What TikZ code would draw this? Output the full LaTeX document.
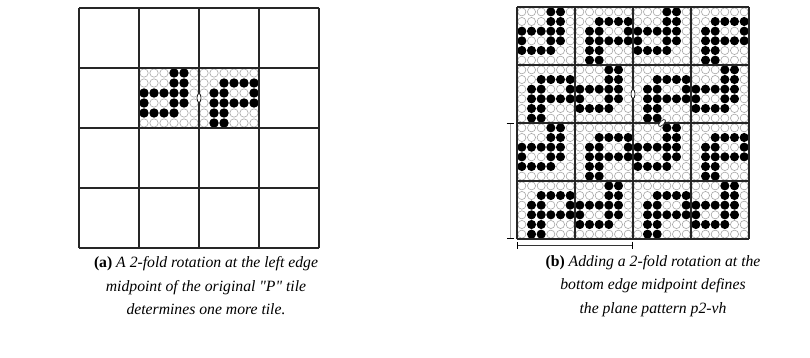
\documentclass[tikz,border=0pt]{standalone}
\usepackage{fontspec}
\setmainfont{Liberation Serif}
\usetikzlibrary{arrows.meta}

% one 6x6 motif: corner x, corner y, cell size, turn
\newcommand{\tilemotif}[4]{%
  \begin{scope}[shift={({#1},{#2})}, scale=#3, rotate around={#4:(3,3)}]
    \foreach \cx in {1,...,6}
      \foreach \ry in {1,...,6}
        \draw[hole] (\cx-0.5,\ry-0.5) circle[radius=0.42];
    \foreach \cx/\ry in {3/2,4/2,5/2,6/2,2/3,3/3,6/3,2/4,3/4,4/4,5/4,6/4,2/5,3/5,2/6,3/6}
      \fill[dot] (\cx-0.5,\ry-0.5) circle[radius=0.47];
  \end{scope}}

\begin{document}
\begin{tikzpicture}[x=1pt, y=-1pt,
    hole/.style={draw=gray!70, line width=0.6pt},
    dot/.style={black},
    tileline/.style={draw=black!85, line width=1.1pt},
    marker/.style={draw=black, fill=white, line width=0.6pt},
    bar/.style={{Bar[width=7pt,line width=0.8pt,black]}-{Bar[width=7pt,line width=0.8pt,black]}, line width=1pt},
    caption/.style={align=center, inner sep=0pt, font=\fontsize{15.7}{23.5}\selectfont}]
  \useasboundingbox (0,0) rectangle (810,358);

  % (a) the original tile and its turned copy
  \tilemotif{139}{68}{10}{180}
  \tilemotif{199}{68}{10}{0}
  \foreach \i in {0,...,4} {
    \draw[tileline] (79+60*\i,8) -- (79+60*\i,248);
    \draw[tileline] (79,8+60*\i) -- (319,8+60*\i);
  }
  \draw[marker] (199,98) ellipse[x radius=2, y radius=4.5];

  % (b) the whole plane pattern
  \foreach \tr in {1,...,4}
    \foreach \tc in {1,...,4} {
      \pgfmathtruncatemacro{\turn}{180*(1-mod(\tr+\tc,2))}
      \tilemotif{517+58*(\tc-1)}{7+58*(\tr-1)}{58/6}{\turn}
    }
  \foreach \i in {0,...,4} {
    \draw[tileline] (517+58*\i,7) -- (517+58*\i,239);
    \draw[tileline] (517,7+58*\i) -- (749,7+58*\i);
  }
  \draw[marker] (633,94) ellipse[x radius=2, y radius=4.5];
  \draw[marker] (662,123) ellipse[x radius=4.5, y radius=2, rotate=45];

  % translation bars
  \coordinate (vtop) at (510,123);
  \coordinate (vbot) at (510,239);
  \coordinate (hleft) at (517,245);
  \coordinate (hright) at (633,245);
  \draw[bar, draw=gray!70] (vtop) -- (vbot);
  \draw[bar, draw=black!80] (hleft) -- (hright);

  % captions
  \node[caption] (capa) at (206,286) {\textbf{(a)} \textit{A 2-fold rotation at the left edge}\\
    \textit{midpoint of the original \textquotedbl P\textquotedbl\ tile}\\ \textit{determines one more tile.}};
  \node[caption] (capb) at (653,286) {\textbf{(b)} \textit{Adding a 2-fold rotation at the}\\
    \textit{bottom edge midpoint defines}\\ \textit{the plane pattern p2-vh}};
\end{tikzpicture}
\end{document}
